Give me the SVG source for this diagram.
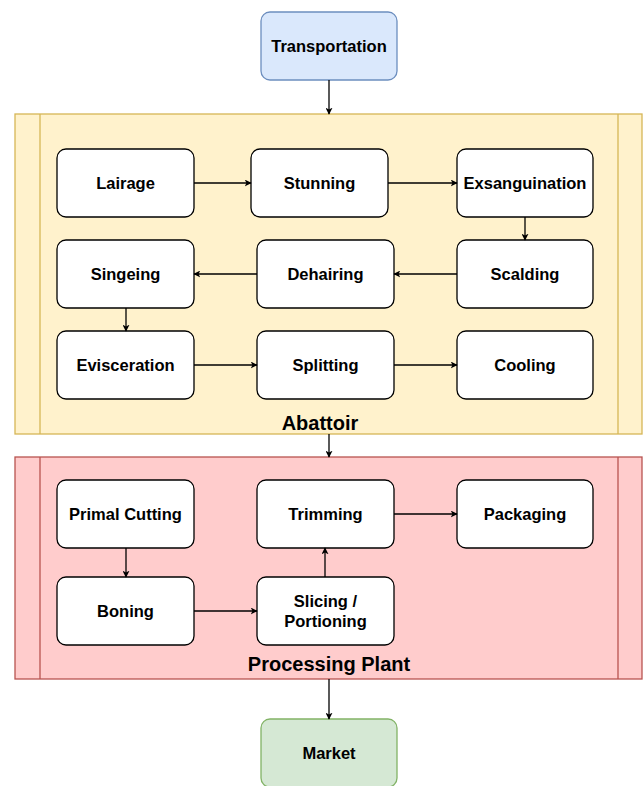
<svg xmlns="http://www.w3.org/2000/svg" width="643" height="786" viewBox="0 0 643 786">
<style>
.node rect{fill:#ffffff;stroke:#000000;stroke-width:1.3}
.t{font-family:"Liberation Sans",Arial,sans-serif;font-weight:bold;font-size:16.5px;fill:#000;text-anchor:middle}
.lbl{font-family:"Liberation Sans",Arial,sans-serif;font-weight:bold;font-size:20px;fill:#000;text-anchor:middle}
.edges line{stroke:#000;stroke-width:1.3;marker-end:url(#arr)}
</style>
<defs>
<marker id="arr" viewBox="0 0 10 10" refX="9" refY="5" markerWidth="7" markerHeight="7" markerUnits="userSpaceOnUse" orient="auto">
<path d="M0,0 L10,5 L0,10 L2.5,5 Z" fill="#000"/>
</marker>
</defs>
<rect width="643" height="786" fill="#ffffff"/>
<g id="abattoir">
<rect x="15" y="114" width="627" height="320" fill="#fff2cc" stroke="#d6b656" stroke-width="1.3"/>
<line x1="40" y1="114" x2="40" y2="434" stroke="#d6b656" stroke-width="1.3"/>
<line x1="618" y1="114" x2="618" y2="434" stroke="#d6b656" stroke-width="1.3"/>
<text class="lbl" x="320" y="430">Abattoir</text>
</g>
<g id="processing">
<rect x="15" y="457" width="627" height="222" fill="#ffcccc" stroke="#b85450" stroke-width="1.3"/>
<line x1="40" y1="457" x2="40" y2="679" stroke="#b85450" stroke-width="1.3"/>
<line x1="618" y1="457" x2="618" y2="679" stroke="#b85450" stroke-width="1.3"/>
<text class="lbl" x="329" y="671">Processing Plant</text>
</g>
<g id="transportation"><rect x="261" y="12" width="136" height="68" rx="9" fill="#dae8fc" stroke="#6c8ebf" stroke-width="1.3"/><text class="t" x="329" y="52">Transportation</text></g>
<g id="lairage" class="node"><rect x="57" y="149" width="137" height="68" rx="9"/><text class="t" x="125.5" y="189">Lairage</text></g>
<g id="stunning" class="node"><rect x="251" y="149" width="137" height="68" rx="9"/><text class="t" x="319.5" y="189">Stunning</text></g>
<g id="exsanguination" class="node"><rect x="457" y="149" width="136" height="68" rx="9"/><text class="t" x="525" y="189">Exsanguination</text></g>
<g id="singeing" class="node"><rect x="57" y="240" width="137" height="68" rx="9"/><text class="t" x="125.5" y="280">Singeing</text></g>
<g id="dehairing" class="node"><rect x="257" y="240" width="137" height="68" rx="9"/><text class="t" x="325.5" y="280">Dehairing</text></g>
<g id="scalding" class="node"><rect x="457" y="240" width="136" height="68" rx="9"/><text class="t" x="525" y="280">Scalding</text></g>
<g id="evisceration" class="node"><rect x="57" y="331" width="137" height="68" rx="9"/><text class="t" x="125.5" y="371">Evisceration</text></g>
<g id="splitting" class="node"><rect x="257" y="331" width="137" height="68" rx="9"/><text class="t" x="325.5" y="371">Splitting</text></g>
<g id="cooling" class="node"><rect x="457" y="331" width="136" height="68" rx="9"/><text class="t" x="525" y="371">Cooling</text></g>
<g id="primal" class="node"><rect x="57" y="480" width="137" height="68" rx="9"/><text class="t" x="125.5" y="520">Primal Cutting</text></g>
<g id="trimming" class="node"><rect x="257" y="480" width="137" height="68" rx="9"/><text class="t" x="325.5" y="520">Trimming</text></g>
<g id="packaging" class="node"><rect x="457" y="480" width="136" height="68" rx="9"/><text class="t" x="525" y="520">Packaging</text></g>
<g id="boning" class="node"><rect x="57" y="577" width="137" height="68" rx="9"/><text class="t" x="125.5" y="617">Boning</text></g>
<g id="slicing" class="node"><rect x="257" y="577" width="137" height="68" rx="9"/><text class="t" x="325.5" y="607">Slicing /</text><text class="t" x="325.5" y="627">Portioning</text></g>
<g id="market"><rect x="261" y="719" width="136" height="68" rx="9" fill="#d5e8d4" stroke="#82b366" stroke-width="1.3"/><text class="t" x="329" y="759">Market</text></g>
<g id="connectors" class="edges">
<line x1="329" y1="80" x2="329" y2="114"/>
<line x1="194" y1="183" x2="251" y2="183"/>
<line x1="388" y1="183" x2="457" y2="183"/>
<line x1="525" y1="217" x2="525" y2="240"/>
<line x1="457" y1="274" x2="394" y2="274"/>
<line x1="257" y1="274" x2="194" y2="274"/>
<line x1="126" y1="308" x2="126" y2="331"/>
<line x1="194" y1="365" x2="257" y2="365"/>
<line x1="394" y1="365" x2="457" y2="365"/>
<line x1="329" y1="434" x2="329" y2="457"/>
<line x1="126" y1="548" x2="126" y2="577"/>
<line x1="194" y1="611" x2="257" y2="611"/>
<line x1="325" y1="577" x2="325" y2="548"/>
<line x1="394" y1="514" x2="457" y2="514"/>
<line x1="329" y1="679" x2="329" y2="719"/>
</g>
</svg>
